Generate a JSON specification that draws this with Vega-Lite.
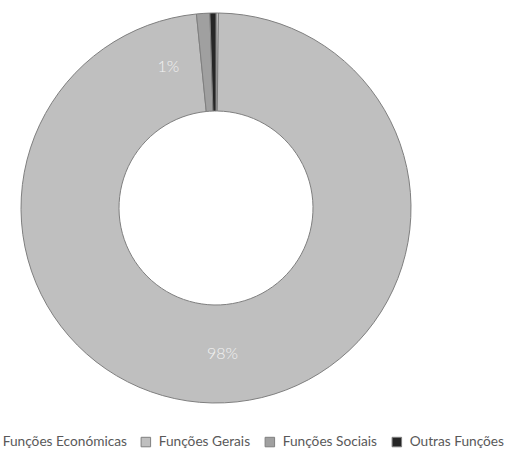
{
  "$schema": "https://vega.github.io/schema/vega-lite/v6.json",
  "width": 432,
  "height": 416,
  "autosize": {"type": "none"},
  "padding": {"left": 0, "top": 0, "right": 84, "bottom": 34},
  "background": "white",
  "config": {"view": {"stroke": null}, "font": "Lato"},
  "data": {
    "values": [
      {"cat": "Funções Económicas", "value": 0.2, "label": ""},
      {"cat": "Funções Gerais", "value": 98.2, "label": "98%"},
      {"cat": "Funções Sociais", "value": 1.1, "label": "1%"},
      {"cat": "Outras Funções", "value": 0.5, "label": ""}
    ]
  },
  "layer": [
    {
      "mark": {"type": "arc", "outerRadius": 195, "innerRadius": 97, "stroke": "#7f7f7f", "strokeWidth": 1},
      "encoding": {
        "theta": {"field": "value", "type": "quantitative", "stack": true},
        "color": {
          "field": "cat",
          "type": "nominal",
          "scale": {
            "domain": ["Funções Económicas", "Funções Gerais", "Funções Sociais", "Outras Funções"],
            "range": ["#d0d0d0", "#bfbfbf", "#a0a0a0", "#262626"]
          },
          "legend": {
            "orient": "none",
            "direction": "horizontal",
            "legendX": -17,
            "legendY": 435,
            "title": null,
            "symbolType": "square",
            "symbolSize": 90,
            "symbolStrokeColor": "#7f7f7f",
            "symbolStrokeWidth": 1,
            "labelFontSize": 13.7,
            "labelColor": "#595959",
            "labelFont": "Lato",
            "labelOffset": 6,
            "columnPadding": 12
          }
        }
      }
    },
    {
      "transform": [
        {"stack": "value", "groupby": [], "sort": [{"field": "cat"}], "as": ["v0", "v1"]},
        {"calculate": "(datum.v0 + datum.v1) / 2", "as": "mid"},
        {"filter": "datum.cat === 'Funções Gerais'"}
      ],
      "mark": {"type": "text", "radius": 146, "fontSize": 16, "fontWeight": 300, "color": "#f2f2f2"},
      "encoding": {
        "theta": {"field": "mid", "type": "quantitative"},
        "text": {"field": "label"}
      }
    },
    {
      "transform": [
        {"stack": "value", "groupby": [], "sort": [{"field": "cat"}], "as": ["v0", "v1"]},
        {"calculate": "(datum.v0 + datum.v1) / 2", "as": "mid"},
        {"filter": "datum.cat === 'Funções Sociais'"}
      ],
      "mark": {"type": "text", "radius": 149, "thetaOffset": -0.26, "fontSize": 16, "fontWeight": 300, "color": "#f2f2f2"},
      "encoding": {
        "theta": {"field": "mid", "type": "quantitative"},
        "text": {"field": "label"}
      }
    }
  ]
}
